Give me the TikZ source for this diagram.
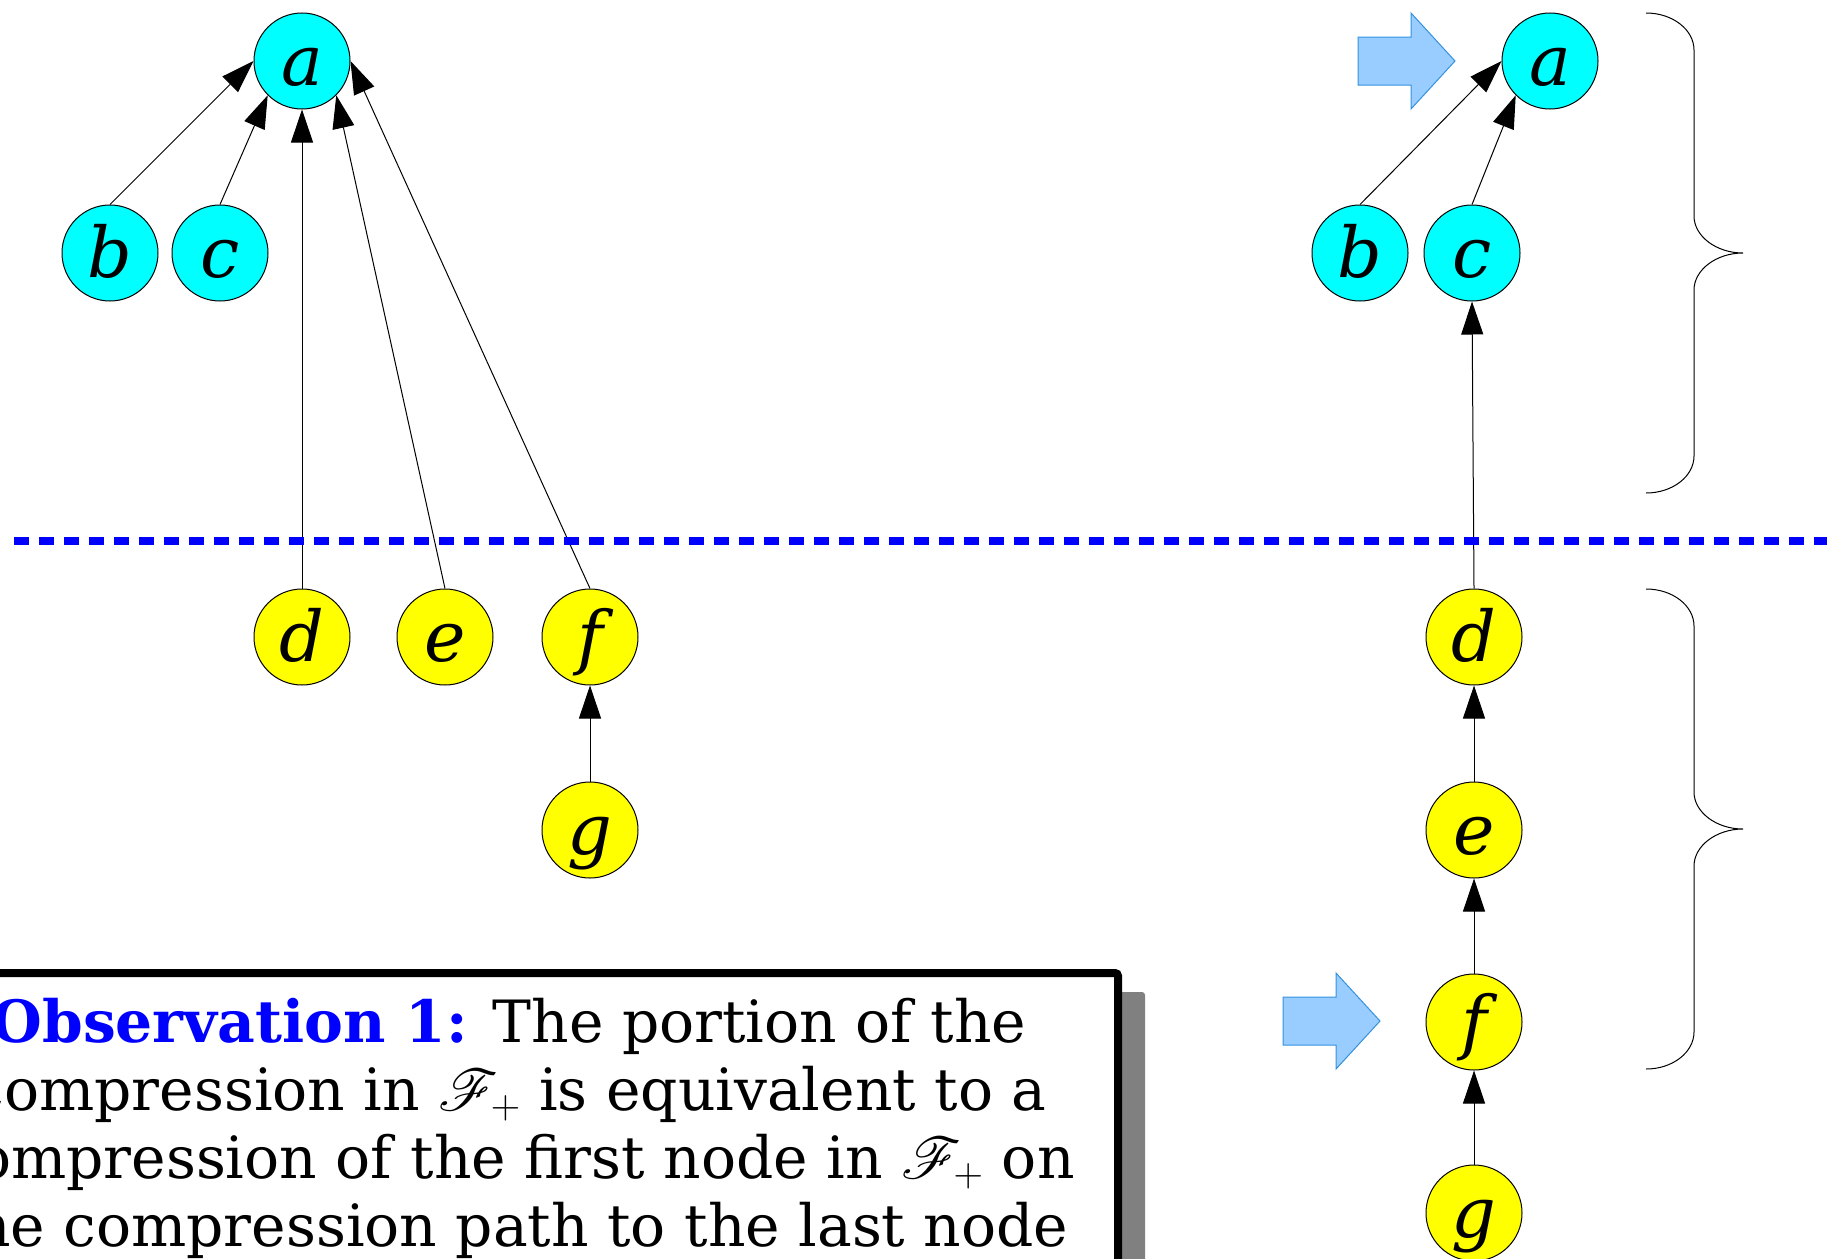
\RequirePackage{fix-cm}
\documentclass[tikz,border=0pt]{standalone}
\usepackage{fontspec}
\setmainfont{DejaVu Serif}
\usepackage{mathrsfs}
\DeclareFontFamily{U}{rsfs}{\skewchar\font127 }
\DeclareFontShape{U}{rsfs}{m}{n}{<-6>rsfs5<6-8>rsfs7<8->rsfs10}{}
\usetikzlibrary{arrows.meta}

\definecolor{nodecyan}{RGB}{0,255,255}
\definecolor{nodeyellow}{RGB}{255,255,0}
\definecolor{pointerfill}{RGB}{153,204,255}
\definecolor{pointerdraw}{RGB}{52,146,221}
\definecolor{shadowgray}{RGB}{128,128,128}
\definecolor{obsblue}{RGB}{0,0,255}

\begin{document}
\begin{tikzpicture}[
    x=1pt, y=-1pt,
    vertex/.style={circle, draw, line width=1pt, minimum size=96pt, inner sep=0pt, text height=60pt, text depth=12pt, font=\fontsize{70}{70}\selectfont\itshape},
    upper/.style={vertex, fill=nodecyan},
    lower/.style={vertex, fill=nodeyellow},
    directed/.style={-{Triangle[length=33pt, width=22pt]}, line width=1pt},
    pointer/.style={fill=pointerfill, draw=pointerdraw, line width=1pt}
]
    \useasboundingbox (0,0) rectangle (1827,1258);
    \clip (0,0) rectangle (1827,1258);

    % Before: upper forest
    \node[upper] (a) at (302, 61) {a};
    \node[upper] (b) at (110, 253) {b};
    \node[upper] (c) at (220, 253) {c};

    % Before: lower forest
    \node[lower] (d) at (302, 637) {d};
    \node[lower] (e) at (445, 637) {e};
    \node[lower] (f) at (590, 637) {f};
    \node[lower] (g) at (590, 830) {g};

    \draw[directed] (b.north) -- (a.west);
    \draw[directed] (c.north) -- (a.south west);
    \draw[directed] (d.north) -- (a.south);
    \draw[directed] (e.north) -- (a.south east);
    \draw[directed] (f.north) -- (a.east);
    \draw[directed] (g.north) -- (f.south);

    % After: single path
    \node[upper] (a2) at (1550, 61) {a};
    \node[upper] (b2) at (1360, 253) {b};
    \node[upper] (c2) at (1472, 253) {c};
    \node[lower] (d2) at (1474, 637) {d};
    \node[lower] (e2) at (1474, 830) {e};
    \node[lower] (f2) at (1474, 1022) {f};
    \node[lower] (g2) at (1474, 1213) {g};

    \draw[directed] (b2.north) -- (a2.west);
    \draw[directed] (c2.north) -- (a2.south west);
    \draw[directed] (d2.north) -- (c2.south);
    \draw[directed] (e2.north) -- (d2.south);
    \draw[directed] (f2.north) -- (e2.south);
    \draw[directed] (g2.north) -- (f2.south);

    % Pointers
    \foreach \tx/\ty in {1455/61, 1380/1021}
        \draw[pointer, shift={(\tx,\ty)}] (0,0) -- (-44,-48) -- (-44,-24) -- (-97,-24) -- (-97,24) -- (-44,24) -- (-44,48) -- cycle;

    % Braces
    \foreach \y in {13, 589}
        \draw[line width=1pt, shift={(1646,\y)}] (0,0) .. controls (27,0) and (48,17) .. (48,37) -- (48,203)
            .. controls (48,223) and (70,240) .. (97,240) .. controls (70,240) and (48,257) .. (48,277)
            -- (48,443) .. controls (48,463) and (27,480) .. (0,480);

    % Divider
    \draw[obsblue, line width=8pt, dash pattern=on 15pt off 10pt] (14,541) -- (1827,541);

    % Observation box
    \fill[shadowgray, rounded corners=3pt] (-177,992) rectangle (1145,1400);
    \draw[line width=8pt, fill=white, rounded corners=3pt] (-200,973) rectangle (1118,1400);
    \node[font=\fontsize{58.3}{68}\selectfont, align=center, anchor=base] (obs) at (509,1246)
        {\textcolor{obsblue}{\bfseries Observation 1:} The portion of the\\
         compression in $\mathscr{F}_+$ is equivalent to a\\
         compression of the first node in $\mathscr{F}_+$ on\\
         the compression path to the last node};
\end{tikzpicture}
\end{document}
